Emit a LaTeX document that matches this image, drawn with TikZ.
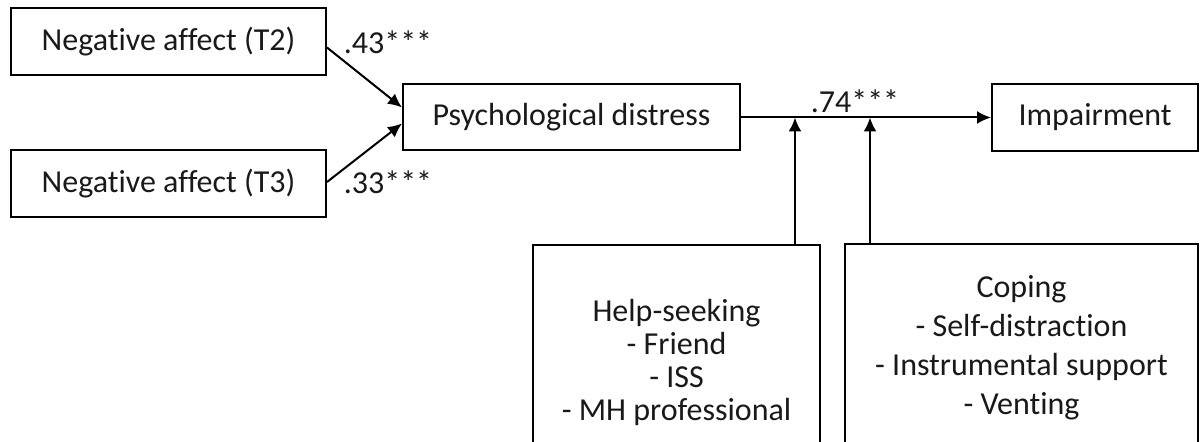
\documentclass[tikz,border=0pt]{standalone}
\usepackage{fontspec}
\setmainfont{Carlito}[Ligatures=NoCommon, Contextuals=NoAlternate]
\usetikzlibrary{arrows.meta}

\begin{document}
\begin{tikzpicture}[x=0.5pt,y=-0.5pt,
  box/.style={draw=black, line width=1pt, inner sep=0pt, align=center, text=black!90},
  coef/.style={inner sep=0pt, text=black!90},
  arr/.style={line width=1pt, -{Latex[length=7pt,width=6.5pt]}},
  every node/.style={font=\fontsize{16}{16.5}\selectfont}
]
\useasboundingbox (0,0) rectangle (1202,442);
\clip (0,0) rectangle (1202,442);

% Predictors
\node[box, minimum width=157.5pt, minimum height=33.5pt] (natwo) at (168.5,41.5) {Negative affect (T2)};
\node[box, minimum width=157.5pt, minimum height=33.5pt] (nathree) at (168.5,184) {Negative affect (T3)};

% Mediator and outcome
\node[box, minimum width=168.5pt, minimum height=33pt] (distress) at (571.5,117.5) {Psychological distress};
\node[box, minimum width=103pt, minimum height=33.5pt] (impair) at (1095,117.5) {Impairment};

% Moderators
\node[box, minimum width=143.5pt, minimum height=117pt] (help) at (676.5,362) {Help-seeking\\- Friend\\- ISS\\- MH professional};
\node[box, minimum width=176.5pt, minimum height=104pt, font=\fontsize{16}{19.5}\selectfont] (coping) at (1021.5,348) {Coping\\- Self-distraction\\- Instrumental support\\- Venting};

% Paths
\draw[arr] ([yshift=-3pt]natwo.east) -- ([yshift=5pt]distress.west);
\draw[arr] ([yshift=1pt]nathree.east) -- ([yshift=-3pt]distress.west);
\draw[arr] (distress.east) -- (impair.west);

\coordinate (modone) at (795,117.5);
\coordinate (modtwo) at (870,117.5);
\draw[arr] (help.north -| modone) -- (modone);
\draw[arr] (coping.north -| modtwo) -- (modtwo);

% Coefficients
\node[coef] (ctwo) at (388,42) {.43***};
\node[coef] (cthree) at (388,182) {.33***};
\node[coef] (cdist) at (855,101) {.74***};

\end{tikzpicture}
\end{document}
